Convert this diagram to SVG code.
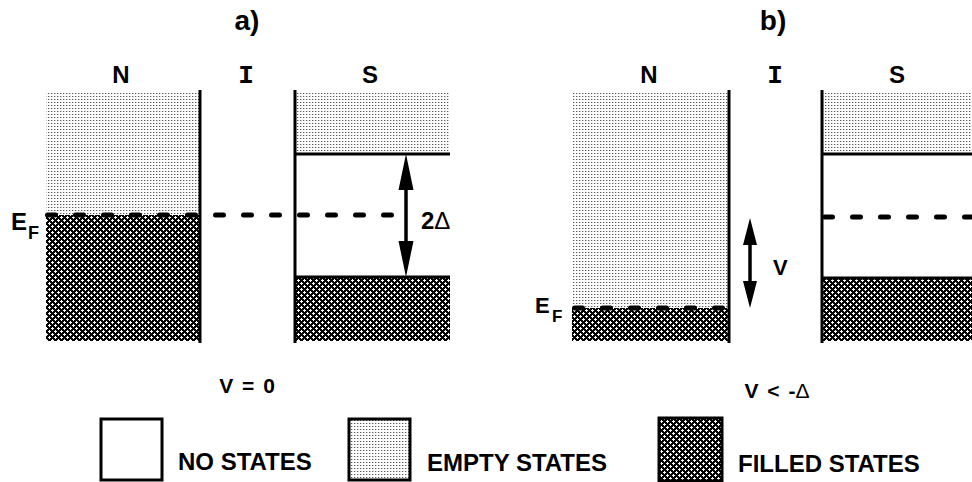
<svg xmlns="http://www.w3.org/2000/svg" width="972" height="482" viewBox="0 0 972 482">
<defs>
<pattern id="empty" width="3" height="3" patternUnits="userSpaceOnUse">
<rect width="3" height="3" fill="#fff"/>
<rect x="0" y="0" width="1" height="1" fill="#555"/>
<rect x="1" y="0" width="1" height="1" fill="#ccc"/>
</pattern>
<pattern id="filled" width="6" height="6" patternUnits="userSpaceOnUse">
<rect width="6" height="6" fill="#000"/>
<rect x="1" y="0" width="1" height="3" fill="#fff"/>
<rect x="0" y="1" width="3" height="1" fill="#fff"/>
<rect x="4" y="3" width="1" height="3" fill="#fff"/>
<rect x="3" y="4" width="3" height="1" fill="#fff"/>
</pattern>
</defs>
<style>
text{font-family:"Liberation Sans",Arial,sans-serif;font-weight:bold;fill:#000}
.hd{font-size:28px;text-anchor:middle}
.lb{font-size:24px;text-anchor:middle}
.mono{font-family:"Liberation Mono","Courier New",monospace;font-size:26px;text-anchor:middle}
.leg{font-size:24px}
.sym{font-weight:normal}
.ln{stroke:#000;stroke-width:3;fill:none}
.dash{stroke:#000;stroke-width:5;stroke-dasharray:8 20;stroke-linecap:round;fill:none}
.box{stroke:#000;stroke-width:3}
</style>

<g id="panel-a">
<text class="hd" x="247" y="30">a)</text>
<text class="lb" x="121" y="83">N</text>
<text class="mono" x="246" y="83">I</text>
<text class="lb" x="370" y="83">S</text>
<g id="a-N">
<rect x="46" y="93" width="154" height="122" fill="url(#empty)"/>
<rect x="46" y="215" width="154" height="126" fill="url(#filled)"/>
<line class="ln" x1="200" y1="90" x2="200" y2="343"/>
</g>
<g id="a-S">
<rect x="295" y="93" width="155" height="61" fill="url(#empty)"/>
<rect x="295" y="277" width="155" height="64" fill="url(#filled)"/>
<line class="ln" x1="295" y1="90" x2="295" y2="343"/>
<line class="ln" x1="295" y1="154" x2="450" y2="154"/>
<line class="ln" x1="295" y1="277" x2="450" y2="277"/>
</g>
<g id="a-EF">
<text x="11" y="230" font-size="24">E</text>
<text x="28" y="239" font-size="18">F</text>
</g>
<text x="421" y="229" font-size="24">2<tspan class="sym">Δ</tspan></text>
<text class="lb" x="247" y="393" style="font-size:21px;word-spacing:3px">V = 0</text>
</g>

<g id="panel-b">
<text class="hd" x="773" y="30">b)</text>
<text class="lb" x="649" y="83">N</text>
<text class="mono" x="775" y="83">I</text>
<text class="lb" x="897" y="83">S</text>
<g id="b-N">
<rect x="572" y="93" width="157" height="215" fill="url(#empty)"/>
<rect x="572" y="308" width="157" height="33" fill="url(#filled)"/>
<line class="ln" x1="729" y1="90" x2="729" y2="343"/>
</g>
<g id="b-S">
<rect x="822" y="93" width="150" height="61" fill="url(#empty)"/>
<rect x="822" y="278" width="150" height="63" fill="url(#filled)"/>
<line class="ln" x1="822" y1="90" x2="822" y2="343"/>
<line class="ln" x1="822" y1="154" x2="972" y2="154"/>
<line class="ln" x1="822" y1="278" x2="972" y2="278"/>
</g>
<g id="b-EF">
<text x="535" y="313" style="font-size:22px">E</text>
<text x="552" y="322" style="font-size:17px">F</text>
</g>
<text x="773" y="275" style="font-size:22px">V</text>
<text class="lb" x="777" y="398" style="font-size:21px;word-spacing:3px">V &lt; -<tspan class="sym">Δ</tspan></text>
</g>

<g id="connectors">
<line class="dash" x1="47.5" y1="215" x2="392" y2="215"/>
<line class="dash" x1="574.5" y1="308" x2="727" y2="308"/>
<line class="dash" x1="824.5" y1="217" x2="972" y2="217"/>
<line x1="406" y1="180" x2="406" y2="251" stroke="#000" stroke-width="3.5"/>
<path d="M406 154L413.5 190H398.5Z M406 277L413.5 241H398.5Z" fill="#000"/>
<line x1="750" y1="238" x2="750" y2="288" stroke="#000" stroke-width="3.5"/>
<path d="M750 218L757 245H743Z M750 308L757 281H743Z" fill="#000"/>
</g>

<g id="legend">
<g id="leg-none">
<rect class="box" x="101" y="419" width="61" height="61" fill="#fff"/>
<text class="leg" x="178" y="470">NO STATES</text>
</g>
<g id="leg-empty">
<rect class="box" x="349" y="419" width="61" height="61" fill="url(#empty)"/>
<text class="leg" x="427" y="471">EMPTY STATES</text>
</g>
<g id="leg-filled">
<rect class="box" x="659" y="418" width="63" height="63" fill="url(#filled)"/>
<text class="leg" x="738" y="472">FILLED STATES</text>
</g>
</g>
</svg>
